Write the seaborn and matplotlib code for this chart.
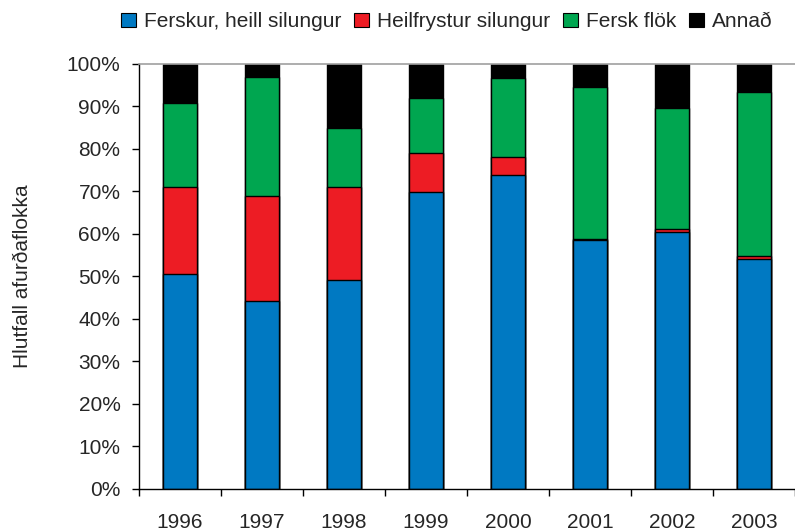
import numpy as np
import pandas as pd
import seaborn as sns
import matplotlib
matplotlib.use('Agg')
import matplotlib.pyplot as plt
from matplotlib.patches import Patch
from matplotlib.ticker import FuncFormatter, FixedLocator

years = ['1996', '1997', '1998', '1999', '2000', '2001', '2002', '2003']
ferskur = [50.6, 44.3, 49.2, 69.9, 73.8, 58.6, 60.5, 54.1]
heilfryst = [20.5, 24.6, 21.9, 9.2, 4.3, 0.1, 0.7, 0.7]
flok = [19.6, 28.1, 13.9, 12.9, 18.5, 35.8, 28.4, 38.6]
annad = [9.3, 3.0, 15.0, 8.0, 3.4, 5.5, 10.4, 6.6]

labels = ['Ferskur, heill silungur', 'Heilfrystur silungur', 'Fersk flök', 'Annað']
colors = ['#0079C2', '#ED1C24', '#00A650', '#000000']

df = pd.DataFrame({'year': years, labels[0]: ferskur, labels[1]: heilfryst,
                   labels[2]: flok, labels[3]: annad})
cum = df[labels].cumsum(axis=1)

sns.set_style('white')
plt.rcParams['font.family'] = ['Liberation Sans', 'DejaVu Sans']

fig = plt.figure(figsize=(7.95, 5.32), dpi=100)
ax = fig.add_axes([0.175, 0.081, 0.825, 0.799])

# draw from the top of the stack down so each layer covers the one above
for lab, col in zip(labels[::-1], colors[::-1]):
    sns.barplot(x=df['year'], y=cum[lab], color=col, saturation=1, width=0.42,
                edgecolor='black', linewidth=1, ax=ax)

ax.set_xlim(-0.5, 7.5)
ax.set_ylim(0, 100)
ax.set_yticks(np.arange(0, 101, 10))
ax.yaxis.set_major_formatter(FuncFormatter(lambda v, p: f'{v:.0f}%'))
ax.set_xlabel('')
ax.set_ylabel('Hlutfall afurðaflokka', fontsize=15)
ax.yaxis.set_label_coords(-0.163, 0.5)

ax.tick_params(axis='y', which='major', direction='out', length=5, width=1,
               color='black', labelsize=15, left=True, pad=8.5)
ax.tick_params(axis='x', which='major', length=0, labelsize=15, pad=17.5)
ax.xaxis.set_minor_locator(FixedLocator(np.arange(-0.5, 8, 1)))
ax.tick_params(axis='x', which='minor', direction='out', length=5, width=1,
               color='black', bottom=True)

for s in ['left', 'bottom']:
    ax.spines[s].set_color('black')
    ax.spines[s].set_linewidth(1)
ax.spines['top'].set_color('#a0a0a0')
ax.spines['top'].set_linewidth(1.2)
ax.spines['right'].set_visible(False)

handles = [Patch(facecolor=c, edgecolor='black', linewidth=0.8) for c in colors]
fig.legend(handles, labels, loc='center', bbox_to_anchor=(0.562, 0.959),
           ncol=4, frameon=False, fontsize=15, handlelength=0.72, handleheight=0.72,
           handletextpad=0.38, columnspacing=0.62, borderpad=0, borderaxespad=0)

fig.savefig('out.png', dpi=100)
